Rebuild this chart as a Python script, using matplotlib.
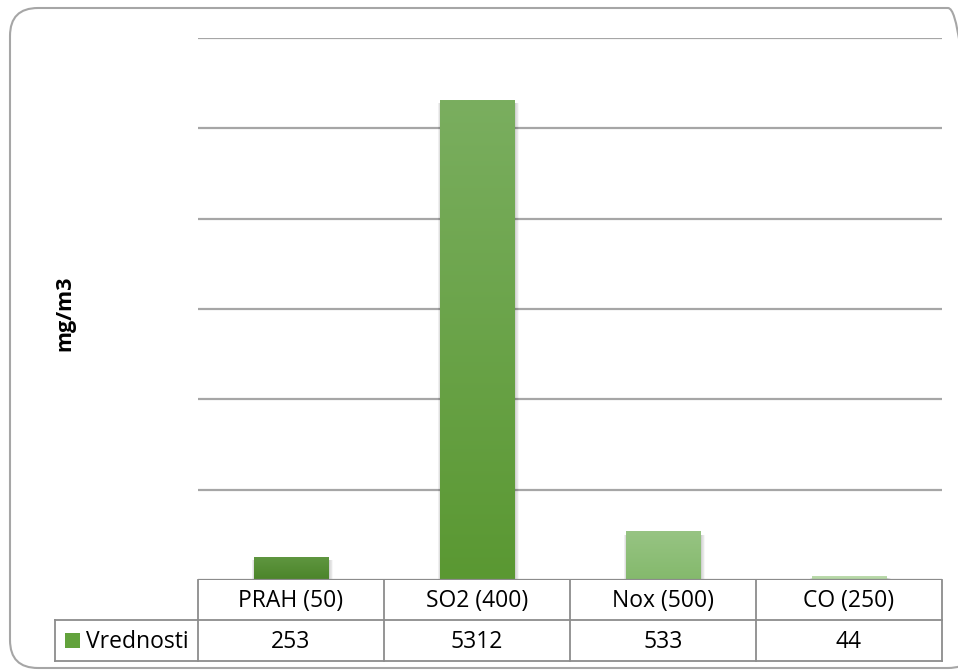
import numpy as np
import matplotlib
matplotlib.use("Agg")
import matplotlib.pyplot as plt
from matplotlib.patches import FancyBboxPatch, Rectangle
from matplotlib.colors import LinearSegmentedColormap

# Data
categories = ["PRAH (50)", "SO2 (400)", "Nox (500)", "CO (250)"]
values = [253, 5312, 533, 44]
series_name = "Vrednosti"
y_label = "mg/m3"
y_max = 6000
y_step = 1000

# Per-bar gradient colours (top, bottom)
bar_colors = [("#5f9640", "#4b8429"),
              ("#7aae5f", "#5a9832"),
              ("#97c483", "#84b96c"),
              ("#bcdbad", "#afd39e")]
legend_color = "#62a23c"

W, H = 958, 670
plt.rcParams["font.family"] = ["Open Sans", "DejaVu Sans"]
fig = plt.figure(figsize=(W / 100, H / 100), dpi=100)


def fx(px):
    return px / W


def fy(py):
    return 1 - py / H


# Rounded chart-area border
bx0, by0, bx1, by1 = 10, 8, 976, 668
border = FancyBboxPatch((fx(bx0), fy(by1)), (bx1 - bx0) / W, (by1 - by0) / H,
                        boxstyle="round,pad=0,rounding_size=%f" % (28 / W),
                        transform=fig.transFigure, fill=False,
                        edgecolor="#a6a6a6", linewidth=1.5,
                        mutation_aspect=W / H)
fig.patches.append(border)

left, right, top, bottom = 198, 942, 38, 580
ax = fig.add_axes([left / W, (H - bottom) / H, (right - left) / W, (bottom - top) / H])
ax.set_xlim(-0.5, len(categories) - 0.5)
ax.set_ylim(0, y_max)
for s in ax.spines.values():
    s.set_visible(False)
ax.set_xticks([])
ax.set_yticks([])
for yv in np.arange(y_step, y_max + 1, y_step):
    ax.axhline(yv, color="#a6a6a6", lw=1.6, zorder=1)
ax.axhline(0, color="#8c8c8c", lw=1.6, zorder=4)

x = np.arange(len(categories))
bw = 0.40
bars = ax.bar(x, values, width=bw, color="none", zorder=3)

# Soft drop shadow (sides and bottom) and vertical gradient fill for each bar
for b, (ctop, cbot) in zip(bars, bar_colors):
    x0, w, h = b.get_x(), b.get_width(), b.get_height()
    for k in range(1, 7):
        d = k * 0.005
        ax.add_patch(Rectangle((x0 - d * 0.6 + 0.006, -d * 200), w + d * 1.2,
                               max(h - 30, h * 0.5) + d * 200,
                               facecolor="black", alpha=0.03, lw=0, zorder=2))
    cmap = LinearSegmentedColormap.from_list("g", [cbot, ctop])
    grad = np.linspace(0, 1, 256).reshape(-1, 1)
    ax.imshow(grad, extent=(x0, x0 + w, 0, h), origin="lower", cmap=cmap,
              aspect="auto", zorder=3)
ax.set_xlim(-0.5, len(categories) - 0.5)
ax.set_ylim(0, y_max)

# Y axis title
fig.text(fx(65), fy(313), y_label, rotation=90, ha="center", va="center",
         fontsize=15.5, fontweight="bold", color="black")

# Data table beneath the plot
row1_top, row1_bot, row2_bot = 580, 620, 661
leg_left = 55
line_kw = dict(color="#8c8c8c", lw=1.3, transform=fig.transFigure, clip_on=False)

col_w = (right - left) / len(categories)
edges = [left + i * col_w for i in range(len(categories) + 1)]
fig.add_artist(plt.Line2D([fx(leg_left), fx(right)], [fy(row1_bot), fy(row1_bot)], **line_kw))
fig.add_artist(plt.Line2D([fx(leg_left), fx(right)], [fy(row2_bot), fy(row2_bot)], **line_kw))
for e in edges:
    fig.add_artist(plt.Line2D([fx(e), fx(e)], [fy(row1_top), fy(row2_bot)], **line_kw))
fig.add_artist(plt.Line2D([fx(leg_left), fx(leg_left)], [fy(row1_bot), fy(row2_bot)], **line_kw))

fs = 16.5
for i, (cat, val) in enumerate(zip(categories, values)):
    cx = (edges[i] + edges[i + 1]) / 2
    fig.text(fx(cx), fy((row1_top + row1_bot) / 2 + 1), cat, ha="center", va="center",
             fontsize=fs, color="black")
    fig.text(fx(cx), fy((row1_bot + row2_bot) / 2 + 1), f"{val}", ha="center", va="center",
             fontsize=fs, color="black")

# Legend key in the table
fig.add_artist(Rectangle((fx(65), fy(648)), 15 / W, 15 / H, transform=fig.transFigure,
                         facecolor=legend_color, edgecolor="none"))
fig.text(fx(86), fy((row1_bot + row2_bot) / 2 + 1), series_name, ha="left", va="center",
         fontsize=fs, color="black")

fig.savefig("out.png", dpi=100, facecolor="white")
